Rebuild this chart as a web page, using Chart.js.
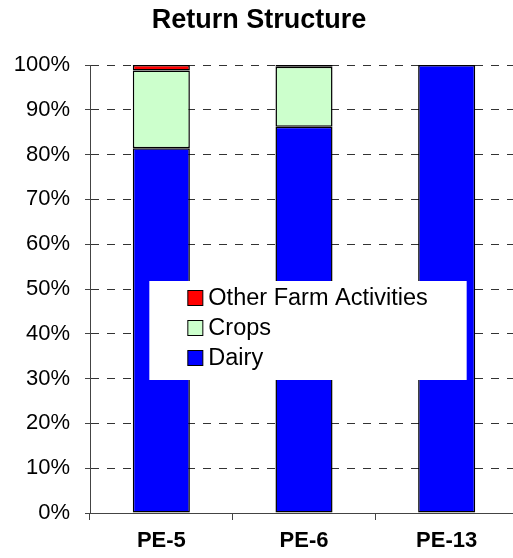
<!DOCTYPE html>
<html>
<head>
<meta charset="utf-8">
<script src="https://cdn.jsdelivr.net/npm/chart.js@4"></script>
<style>
  html, body { margin: 0; padding: 0; background: #fff; overflow: hidden; }
  #wrap { position: relative; width: 518px; height: 558px; }
</style>
</head>
<body>
<div id="wrap"><canvas id="grafica"></canvas></div>
<script>
const categories = ["PE-5", "PE-6", "PE-13"];
const dairy = [81.4, 86.2, 100];
const crops = [17.4, 13.4, 0];
const other = [1.2, 0.4, 0];
const yTicks = [0, 10, 20, 30, 40, 50, 60, 70, 80, 90, 100];

const FONT = "'Liberation Sans', Arial, sans-serif";

// legend box drawn inside the plot, on top of the bars
const boxLegend = {
    id: "boxLegend",
    afterDatasetsDraw(chart) {
        const ctx = chart.ctx;
        const x = chart.scales.x;
        const y = chart.scales.y;
        const left = x.getPixelForValue(0) - 12;
        const top = Math.round(y.getPixelForValue(51.8));
        const right = x.getPixelForValue(2) + 20;
        const bottom = Math.round(y.getPixelForValue(29.7));
        ctx.save();
        ctx.fillStyle = "#fff";
        ctx.fillRect(left, top, right - left, bottom - top);
        ctx.font = "23.5px " + FONT;
        ctx.textBaseline = "middle";
        const sets = chart.data.datasets.slice().reverse();
        sets.forEach((ds, i) => {
            const cy = top + 17 + i * 30;
            ctx.fillStyle = ds.backgroundColor;
            ctx.fillRect(left + 38.5, cy - 7.5, 15, 15);
            ctx.strokeStyle = "#000";
            ctx.lineWidth = 1;
            ctx.strokeRect(left + 38.5, cy - 7.5, 15, 15);
            ctx.fillStyle = "#000";
            ctx.fillText(ds.label, left + 59, cy + 1);
        });
        ctx.restore();
    }
};

const data = {
    labels: categories,
    datasets: [
        { label: "Dairy", data: dairy, backgroundColor: "#0000FF" },
        { label: "Crops", data: crops, backgroundColor: "#CCFFCC" },
        { label: "Other Farm Activities", data: other, backgroundColor: "#FF0000" }
    ]
};

const grafica = new Chart("grafica", {
    type: "bar",
    data: data,
    plugins: [boxLegend],
    options: {
        responsive: true,
        maintainAspectRatio: false,
        animation: false,
        layout: { padding: 0 },
        datasets: {
            bar: {
                barPercentage: 0.4,
                categoryPercentage: 1,
                borderColor: "#000",
                borderWidth: 1.5,
                borderSkipped: false
            }
        },
        scales: {
            x: {
                stacked: true,
                afterFit: (s) => { s.height = 45; },
                grid: { drawOnChartArea: false, drawTicks: true, tickLength: 7, tickColor: "#444", offset: true },
                border: { color: "#444", width: 1 },
                ticks: {
                    color: "#000",
                    padding: 8,
                    font: { family: FONT, size: 22, weight: "bold" }
                }
            },
            y: {
                stacked: true,
                min: 0,
                max: 100,
                afterFit: (s) => { s.width = 90; },
                afterBuildTicks: (s) => { s.ticks = yTicks.map(v => ({ value: v })); },
                grid: { color: "#333", tickLength: 5, tickColor: "#444", lineWidth: 1 },
                border: { color: "#444", width: 1, dash: [8, 8] },
                ticks: {
                    color: "#000",
                    padding: 15,
                    font: { family: FONT, size: 22 },
                    callback: (v) => v + "%"
                }
            }
        },
        plugins: {
            title: {
                display: true,
                text: "Return Structure",
                color: "#000",
                font: { family: FONT, size: 27, weight: "bold" },
                padding: { top: 4, bottom: 28.6 }
            },
            legend: { display: false },
            tooltip: { enabled: false }
        }
    }
});
</script>
</body>
</html>
